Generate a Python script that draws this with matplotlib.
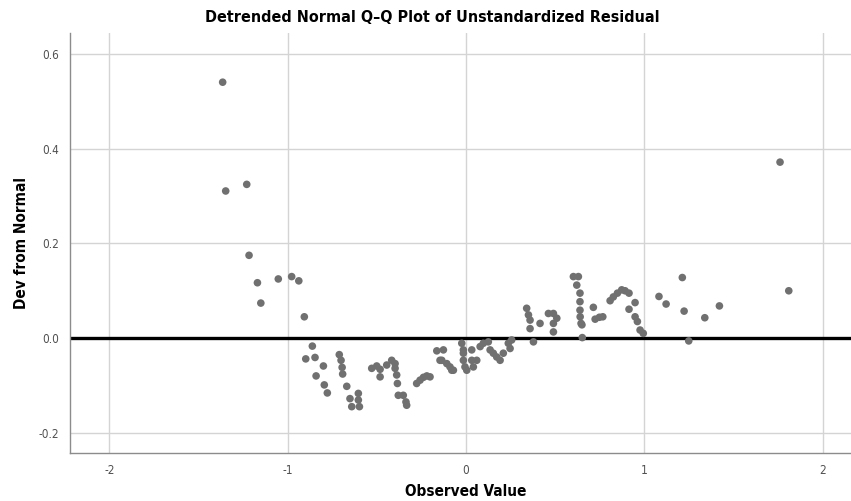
import matplotlib
matplotlib.use("Agg")
import matplotlib.pyplot as plt
from matplotlib import font_manager

title = "Detrended Normal Q\u2013Q Plot of Unstandardized Residual"
x_label = "Observed Value"
y_label = "Dev from Normal"
x_ticks = [-2, -1, 0, 1, 2]
y_ticks = [-0.2, 0.0, 0.2, 0.4, 0.6]

obs = [
    -1.365, -1.348, -1.230, -1.217, -1.170, -1.151, -1.053, -0.978, -0.938, -0.907,
    -0.899, -0.862, -0.847, -0.841, -0.800, -0.795, -0.778,
    -0.711, -0.701, -0.695, -0.692, -0.669, -0.651, -0.641, -0.604, -0.604, -0.598,
    -0.529, -0.501, -0.482, -0.482, -0.445, -0.417, -0.398, -0.398, -0.389, -0.385,
    -0.380, -0.352, -0.337, -0.333, -0.277, -0.258, -0.239, -0.220,
    -0.202, -0.164, -0.146, -0.136, -0.127, -0.108, -0.090, -0.080, -0.071,
    -0.024, -0.015, -0.015, -0.015, -0.006, 0.004, 0.032, 0.032, 0.041, 0.060,
    0.079, 0.097, 0.125, 0.135, 0.153, 0.172, 0.191, 0.209, 0.237, 0.247, 0.256,
    0.340, 0.350, 0.359, 0.359, 0.378, 0.415, 0.462, 0.490, 0.490, 0.490, 0.509,
    0.602, 0.621, 0.630, 0.639, 0.639, 0.639, 0.640, 0.645, 0.650, 0.652,
    0.714, 0.724, 0.748, 0.767, 0.808, 0.826, 0.849, 0.873, 0.892, 0.914,
    0.914, 0.948, 0.948, 0.961, 0.976, 0.994,
    1.082, 1.122, 1.213, 1.223, 1.249, 1.339, 1.421, 1.761, 1.810,
]
dev = [
    0.541, 0.311, 0.325, 0.175, 0.117, 0.074, 0.125, 0.130, 0.121, 0.045,
    -0.044, -0.017, -0.041, -0.080, -0.059, -0.099, -0.116,
    -0.035, -0.047, -0.062, -0.076, -0.102, -0.128, -0.145, -0.117, -0.131, -0.145,
    -0.064, -0.059, -0.082, -0.066, -0.057, -0.047, -0.054, -0.064, -0.078, -0.096,
    -0.121, -0.121, -0.135, -0.142, -0.096, -0.089, -0.083, -0.080,
    -0.082, -0.027, -0.047, -0.047, -0.025, -0.054, -0.061, -0.068, -0.068,
    -0.011, -0.025, -0.032, -0.047, -0.061, -0.068, -0.025, -0.047, -0.061, -0.047,
    -0.018, -0.011, -0.008, -0.025, -0.032, -0.040, -0.047, -0.032, -0.011, -0.022, -0.004,
    0.063, 0.049, 0.038, 0.020, -0.008, 0.031, 0.052, 0.052, 0.031, 0.013, 0.042,
    0.130, 0.112, 0.130, 0.095, 0.077, 0.059, 0.045, 0.031, 0.028, 0.001,
    0.065, 0.040, 0.044, 0.045, 0.079, 0.087, 0.095, 0.102, 0.100, 0.095,
    0.061, 0.075, 0.045, 0.035, 0.017, 0.010,
    0.088, 0.072, 0.128, 0.057, -0.006, 0.043, 0.068, 0.372, 0.100,
]

fam = "DejaVu Sans"
stretch = "condensed" if any(
    f.name == "DejaVu Sans" and f.stretch == "condensed" for f in font_manager.fontManager.ttflist
) else "normal"

fig = plt.figure(figsize=(8.51, 5.01), dpi=100)
ax = fig.add_axes([0.0823, 0.0958, 0.9177, 0.8383])

xlim = (-2.221, 2.159)
ax.set_xlim(*xlim)
ax.set_ylim(-0.243, 0.645)
ax.set_xticks(x_ticks)
ax.set_yticks(y_ticks)
ax.set_xticklabels([str(t) for t in x_ticks], stretch=stretch)
ax.set_yticklabels(["%.1f" % t for t in y_ticks], stretch=stretch)
ax.grid(True, color="#d4d4d4", linewidth=1.0)
ax.set_axisbelow(True)
ax.axhline(0.0, color="black", linewidth=2.4, zorder=2)
ax.scatter(obs, dev, s=30, color="#707070", edgecolors="none", zorder=3)

for side in ("top", "right"):
    ax.spines[side].set_visible(False)
for side in ("left", "bottom"):
    ax.spines[side].set_color("#8c8c8c")
    ax.spines[side].set_linewidth(1.0)
ax.tick_params(length=0, labelsize=8.5, colors="#505050", pad=8)

fig.text(432 / 851, 1 - 17 / 501, title, ha="center", va="center",
         fontsize=11.5, fontweight="bold", family=fam, stretch=stretch)
fig.text(466 / 851, 1 - 492 / 501, x_label, ha="center", va="center",
         fontsize=11, fontweight="bold", family=fam, stretch=stretch)
ax.set_ylabel(y_label, fontsize=11, fontweight="bold", labelpad=7, family=fam, stretch=stretch)

fig.savefig("out.png", dpi=100)
